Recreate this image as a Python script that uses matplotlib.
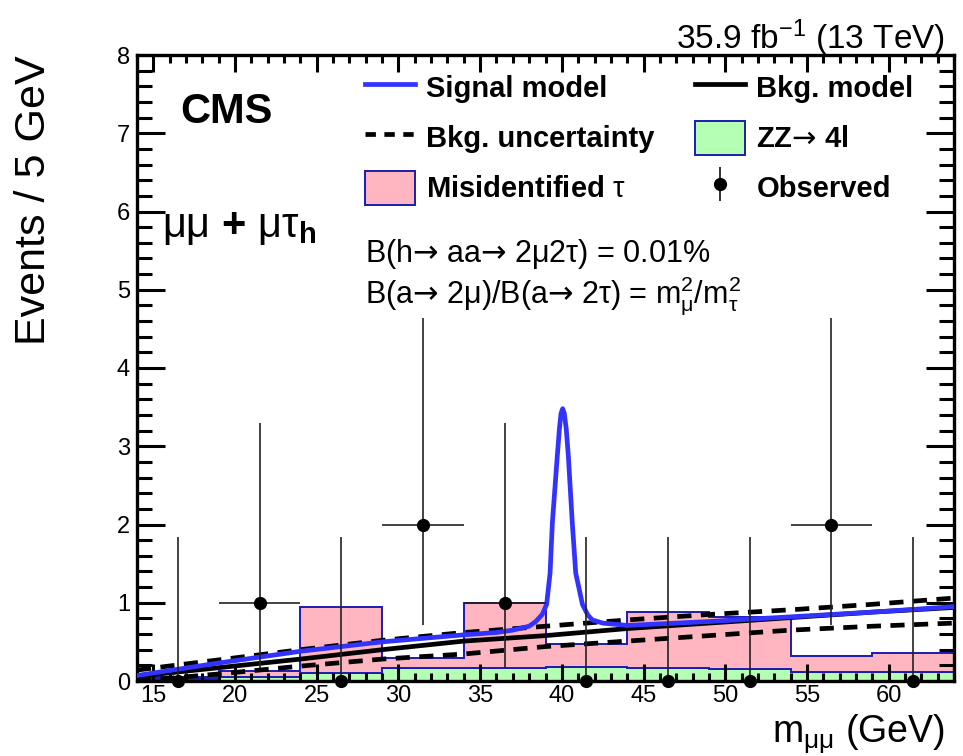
import matplotlib
matplotlib.use("Agg")
import matplotlib.pyplot as plt
from matplotlib.lines import Line2D
from matplotlib.patches import Patch
from matplotlib.legend_handler import HandlerTuple
from matplotlib.ticker import MultipleLocator
import numpy as np

plt.rcParams['font.family'] = ['Liberation Sans', 'DejaVu Sans']
plt.rcParams['mathtext.fontset'] = 'custom'
plt.rcParams['mathtext.rm'] = 'Liberation Sans'
plt.rcParams['mathtext.it'] = 'Liberation Sans:italic'
plt.rcParams['mathtext.bf'] = 'Liberation Sans:bold'
plt.rcParams['mathtext.sf'] = 'DejaVu Sans'
plt.rcParams['mathtext.default'] = 'regular'
plt.rcParams['mathtext.fallback'] = 'stixsans'

# ---------------- data ----------------
bin_edges = [14, 19, 24, 29, 34, 39, 44, 49, 54, 59, 64]
zz_4l = [0.02, 0.05, 0.10, 0.16, 0.17, 0.18, 0.17, 0.15, 0.11, 0.11]
misid_tau = [0.03, 0.08, 0.84, 0.13, 0.83, 0.29, 0.71, 0.67, 0.21, 0.25]

obs_x = [16.5, 21.5, 26.5, 31.5, 36.5, 41.5, 46.5, 51.5, 56.5, 61.5]
obs_y = [0, 1, 0, 2, 1, 0, 0, 0, 2, 0]
obs_err_lo = [0, 0.83, 0, 1.29, 0.83, 0, 0, 0, 1.29, 0]
obs_err_hi = [1.84, 2.30, 1.84, 2.64, 2.30, 1.84, 1.84, 1.84, 2.64, 1.84]
obs_xerr = [0, 2.5, 0, 2.5, 2.5, 0, 0, 0, 2.5, 0]

bkg_x = [14, 19, 24, 29, 34, 39, 44, 49, 54, 59, 64]
bkg_model = [0.06, 0.17, 0.28, 0.40, 0.51, 0.58, 0.67, 0.74, 0.81, 0.88, 0.94]
bkg_up = [0.14, 0.27, 0.40, 0.52, 0.62, 0.70, 0.78, 0.85, 0.91, 0.98, 1.06]
bkg_down = [0.00, 0.09, 0.19, 0.28, 0.345, 0.44, 0.51, 0.58, 0.65, 0.70, 0.74]

sig_x = [14, 19, 24, 29, 34, 36, 37, 38, 38.4, 38.8, 39.07, 39.28, 39.42, 39.72,
         39.85, 39.95, 40.05, 40.15, 40.27, 40.4, 40.64, 40.85, 41.26, 41.6,
         41.87, 42.5, 44, 49, 54, 59, 64]
sig_model = [0.07, 0.23, 0.38, 0.50, 0.59, 0.62, 0.65, 0.70, 0.76, 0.85, 0.98,
             1.38, 2.02, 2.87, 3.22, 3.42, 3.48, 3.42, 3.22, 2.87, 2.02, 1.38,
             0.98, 0.84, 0.78, 0.74, 0.71, 0.76, 0.82, 0.88, 0.95]

# ---------------- style ----------------
BLUE = '#3333ff'
PINK = '#ffb6c1'
GREEN = '#b3ffb3'
EDGE = '#1c1cb0'
ARROW = '$\\mathsf{→}$'

fig = plt.figure(figsize=(9.63, 7.56), dpi=100)
ax = fig.add_axes([137/963, 75/756, 817/963, 626/756])

zz_arr = np.array(zz_4l)
stack = zz_arr + np.array(misid_tau)
ax.stairs(zz_arr, bin_edges, baseline=0, fill=True, facecolor=GREEN,
          edgecolor=EDGE, linewidth=1.4, zorder=1)
ax.stairs(stack, bin_edges, baseline=zz_arr, fill=True, facecolor=PINK,
          edgecolor=EDGE, linewidth=1.4, zorder=1.1)

ax.plot(bkg_x, bkg_up, color='black', lw=3.4, ls=(0, (3, 2)), zorder=3)
ax.plot(bkg_x, bkg_down, color='black', lw=3.4, ls=(0, (3, 2)), zorder=3)
ax.plot(bkg_x, bkg_model, color='black', lw=3.4, zorder=3.2)
ax.plot(sig_x, sig_model, color=BLUE, lw=3.4, zorder=3.4,
        solid_joinstyle='round')

ax.errorbar(obs_x, obs_y, yerr=[obs_err_lo, obs_err_hi], xerr=obs_xerr,
            fmt='o', color='black', ecolor='#222222', elinewidth=1.2,
            markersize=8.5, capsize=0, zorder=4, clip_on=False)

ax.set_xlim(14, 64)
ax.set_ylim(0, 8)
ax.xaxis.set_major_locator(MultipleLocator(5))
ax.xaxis.set_minor_locator(MultipleLocator(1))
ax.yaxis.set_major_locator(MultipleLocator(1))
ax.yaxis.set_minor_locator(MultipleLocator(0.2))
ax.tick_params(which='both', direction='in', top=True, right=True,
               width=2.2, labelsize=17, pad=5)
ax.tick_params(axis='x', which='major', length=12, pad=3)
ax.tick_params(axis='x', which='minor', length=6)
ax.tick_params(axis='y', which='major', length=20)
ax.tick_params(axis='y', which='minor', length=11)
for s in ax.spines.values():
    s.set_linewidth(2.4)

ax.set_ylabel('Events / 5 GeV', fontsize=31, loc='top')
ax.yaxis.set_label_coords(-0.102, 1.0)
ax.set_xlabel('m$_{μμ}$ (GeV)', fontsize=27, loc='right')
ax.xaxis.set_label_coords(0.989, -0.050)

fig.text(945/963, 1 - 49/756, '35.9 fb$^{-1}$ (13 TeV)', ha='right',
         va='baseline', fontsize=24)

ax.text(0.0526, 0.891, 'CMS', fontsize=30, fontweight='bold',
        transform=ax.transAxes, va='baseline')
ax.text(0.0306, 0.709, 'μμ $\\mathbf{+}$ μτ$_{\\mathbf{h}}$', fontsize=30,
        transform=ax.transAxes, va='baseline')
ax.text(0.279, 0.669, 'B(h' + ARROW + ' aa' + ARROW + ' 2μ2τ) = 0.01%',
        fontsize=22, transform=ax.transAxes, va='baseline')
ax.text(0.279, 0.605,
        'B(a' + ARROW + ' 2μ)/B(a' + ARROW + ' 2τ) = m$_{μ}^{2}$/m$_{τ}^{2}$',
        fontsize=22, transform=ax.transAxes, va='baseline')

# legend
prop = {'family': 'Liberation Sans', 'weight': 'bold', 'size': 21}
h_sig = Line2D([], [], color=BLUE, lw=3.4)
h_unc = Line2D([], [], color='black', lw=3.4, ls=(0, (2.2, 1.8)))
h_mis = Patch(facecolor=PINK, edgecolor=EDGE, lw=1.4)
h_bkg = Line2D([], [], color='black', lw=3.4)
h_zz = Patch(facecolor=GREEN, edgecolor=EDGE, lw=1.4)
h_obs = (Line2D([], [], marker='|', ms=24, mew=1.3, color='#222222', ls='none'),
         Line2D([], [], marker='o', ms=8.5, color='black', ls='none'))

common = dict(loc='upper left', bbox_transform=fig.transFigure, borderpad=0,
              borderaxespad=0, frameon=False, handlelength=1.7,
              handletextpad=0.4, handleheight=1.42, labelspacing=0.55,
              prop=prop, handler_map={tuple: HandlerTuple(ndivide=1)})
leg1 = ax.legend([h_sig, h_unc, h_mis],
                 ['Signal model', 'Bkg. uncertainty', 'Misidentified $\\mathrm{τ}$'],
                 bbox_to_anchor=(365/963, 1 - 70.5/756), **common)
ax.add_artist(leg1)
leg2 = ax.legend([h_bkg, h_zz, h_obs],
                 ['Bkg. model', 'ZZ' + ARROW + ' 4l', 'Observed'],
                 bbox_to_anchor=(695/963, 1 - 70.5/756), **common)

fig.savefig('out.png', dpi=100)
